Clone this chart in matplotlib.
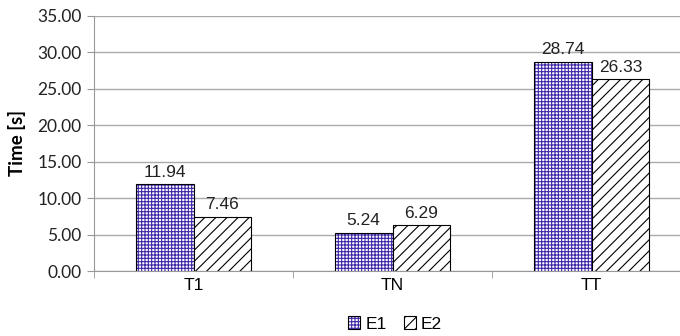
import matplotlib.pyplot as plt
import numpy as np

plt.rcParams['hatch.linewidth'] = 0.8

categories = ['T1', 'TN', 'TT']
e1 = [11.94, 5.24, 28.74]
e2 = [7.46, 6.29, 26.33]
yticks = [0, 5, 10, 15, 20, 25, 30, 35]

fig = plt.figure(figsize=(6.8, 3.36), dpi=100)
ax = fig.add_axes([94 / 680, 65 / 336, 597 / 680, 255 / 336])

x = np.arange(len(categories))
w = 0.29
b1 = ax.bar(x - w / 2, e1, w, color='white', edgecolor='black', hatch='+++++',
            linewidth=0.8, label='E1', zorder=3)
b2 = ax.bar(x + w / 2, e2, w, color='white', edgecolor='black', hatch='///',
            linewidth=0.8, label='E2', zorder=3)
for r in b1:
    r._hatch_color = (0.25, 0.15, 0.65, 1.0)

for bars, vals in ((b1, e1), (b2, e2)):
    for r, v in zip(bars, vals):
        ax.text(r.get_x() + r.get_width() / 2, v + 0.6, f'{v:.2f}',
                ha='center', va='bottom', fontsize=12.5, family='Liberation Sans',
                color='#222222', zorder=4)

ax.set_xlim(-0.5, 2.5)
ax.set_ylim(0, 35)
ax.set_yticks(yticks)
ax.set_yticklabels([f'{t:.2f}' for t in yticks], family='Lato', fontsize=12.5,
                   color='#222222')
ax.set_xticks(x)
ax.set_xticklabels(categories, family='Liberation Sans', fontsize=12.5)
ax.tick_params(axis='x', length=0, pad=5)
ax.set_xticks([-0.5, 0.5, 1.5, 2.5], minor=True)
ax.tick_params(axis='x', which='minor', length=5, color='#999999')
ax.tick_params(axis='y', length=5, color='#999999', pad=4)
ax.yaxis.grid(True, color='#aaaaaa', linewidth=1, zorder=0)
ax.set_axisbelow(True)
for s in ('top', 'right'):
    ax.spines[s].set_visible(False)
for s in ('left', 'bottom'):
    ax.spines[s].set_color('#999999')
ax.set_ylabel('Time [s]', family='Lato', fontweight='bold', fontsize=13.5,
              labelpad=8)

fig.legend(handles=[b1, b2], loc='center', bbox_to_anchor=(395 / 680, 1 - 324 / 336),
           ncol=2, frameon=False, prop={'family': 'Liberation Sans', 'size': 12.5},
           handlelength=0.7, handleheight=0.7, handletextpad=0.3, columnspacing=1.0)

fig.savefig('out.png', dpi=100)
